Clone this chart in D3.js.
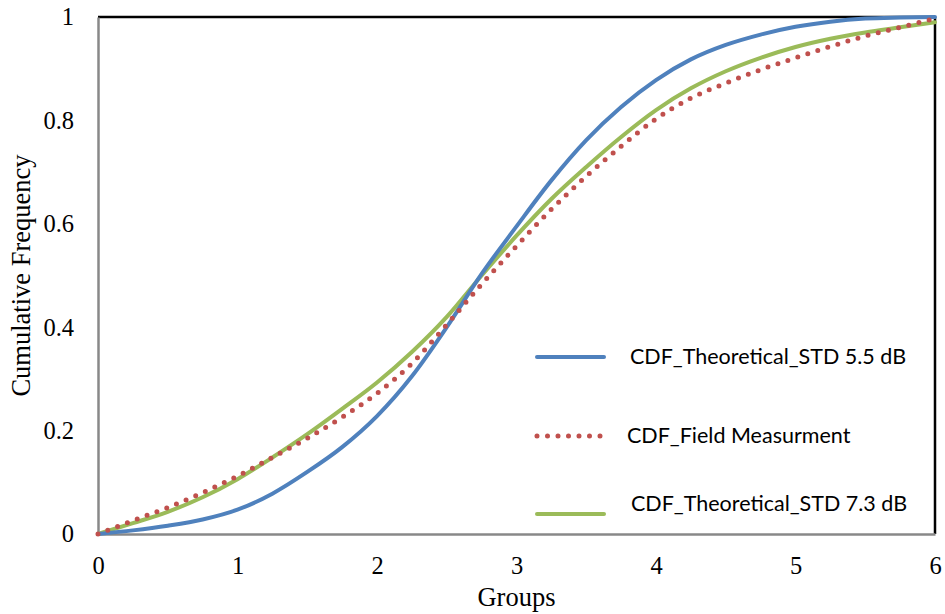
<!DOCTYPE html>
<html>
<head>
<meta charset="utf-8">
<script src="https://cdn.jsdelivr.net/npm/d3@7"></script>
<style>
  body { margin: 0; background: #fff; }
</style>
</head>
<body>
<div id="chart"></div>
<script>
// data
var groups = [0, 0.25, 0.5, 0.75, 1, 1.25, 1.5, 1.75, 2, 2.25, 2.5, 2.75, 3,
              3.25, 3.5, 3.75, 4, 4.25, 4.5, 4.75, 5, 5.25, 5.5, 5.75, 6];
var std55 = [0, 0.007, 0.016, 0.028, 0.047, 0.078, 0.12, 0.168, 0.228, 0.305, 0.40, 0.503, 0.595,
             0.684, 0.762, 0.826, 0.878, 0.918, 0.946, 0.966, 0.981, 0.991, 0.997, 0.999, 1.0];
var field = [0, 0.026, 0.051, 0.08, 0.112, 0.148, 0.185, 0.226, 0.272, 0.33, 0.405, 0.483, 0.557,
             0.628, 0.692, 0.75, 0.803, 0.843, 0.872, 0.898, 0.921, 0.943, 0.963, 0.98, 0.997];
var std73 = [0, 0.021, 0.043, 0.071, 0.106, 0.148, 0.193, 0.242, 0.293, 0.352, 0.42, 0.50, 0.577,
             0.648, 0.71, 0.768, 0.82, 0.862, 0.895, 0.921, 0.942, 0.958, 0.97, 0.98, 0.99];
var xTicks = [0, 1, 2, 3, 4, 5, 6];
var yTicks = [0, 0.2, 0.4, 0.6, 0.8, 1];
var seriesNames = ["CDF_Theoretical_STD 5.5 dB", "CDF_Field Measurment", "CDF_Theoretical_STD 7.3 dB"];

const width = 945;
const height = 614;
const plotLeft = 98, plotRight = 935, plotTop = 17, plotBottom = 534;

var svg = d3.select("#chart")
    .append("svg")
    .attr("width", width)
    .attr("height", height);

var x = d3.scaleLinear().domain([0, 6]).range([plotLeft, plotRight]);
var y = d3.scaleLinear().domain([0, 1]).range([plotBottom, plotTop]);

// frame: top and right black, left and bottom gray
svg.append("line").attr("x1", plotLeft).attr("x2", plotRight).attr("y1", plotTop).attr("y2", plotTop)
    .attr("stroke", "#000").attr("stroke-width", 2.5);
svg.append("line").attr("x1", plotRight).attr("x2", plotRight).attr("y1", plotTop).attr("y2", plotBottom)
    .attr("stroke", "#000").attr("stroke-width", 2.5);

// axes without tick marks
var xAxis = svg.append("g")
    .attr("transform", "translate(0," + plotBottom + ")")
    .call(d3.axisBottom(x).tickValues(xTicks).tickSize(0).tickPadding(23).tickFormat(d3.format("d")));
var yAxis = svg.append("g")
    .attr("transform", "translate(" + plotLeft + ",0)")
    .call(d3.axisLeft(y).tickValues(yTicks).tickSize(0).tickPadding(24).tickFormat(function(d){ return d === 0 || d === 1 ? d : d.toFixed(1); }));

[xAxis, yAxis].forEach(function(a) {
    a.select(".domain").attr("stroke", "#888").attr("stroke-width", 2.5);
    a.selectAll("text")
        .attr("font-family", "Liberation Serif, Times New Roman, serif")
        .attr("font-size", 24.5)
        .attr("fill", "#000");
});

// axis titles
svg.append("text")
    .attr("x", (plotLeft + plotRight) / 2)
    .attr("y", 606)
    .attr("text-anchor", "middle")
    .attr("font-family", "Liberation Serif, Times New Roman, serif")
    .attr("font-size", 26.5)
    .text("Groups");
svg.append("text")
    .attr("transform", "translate(30," + (plotTop + plotBottom) / 2 + ") rotate(-90)")
    .attr("text-anchor", "middle")
    .attr("font-family", "Liberation Serif, Times New Roman, serif")
    .attr("font-size", 26.5)
    .text("Cumulative Frequency");

var line = d3.line()
    .x(function(d){ return x(d[0]); })
    .y(function(d){ return y(d[1]); })
    .curve(d3.curveMonotoneX);

var series = [
    {name: seriesNames[0], values: std55, color: "#4F81BD", dash: null},
    {name: seriesNames[1], values: field, color: "#C0504D", dash: "0,10.5"},
    {name: seriesNames[2], values: std73, color: "#9BBB59", dash: null}
];

// draw green, then blue, red dots on top
[series[2], series[0], series[1]].forEach(function(s) {
    svg.append("path")
        .datum(groups.map(function(g, i){ return [g, s.values[i]]; }))
        .attr("d", line)
        .attr("fill", "none")
        .attr("stroke", s.color)
        .attr("stroke-width", s.dash ? 5 : 4)
        .attr("stroke-linecap", "round")
        .attr("stroke-dasharray", s.dash);
});

// legend
var legendY = [357, 436, 514];
var textY = [356, 435, 503];
var textX = [630, 627, 631];
series.forEach(function(s, i) {
    svg.append("line")
        .attr("x1", 537).attr("x2", 604)
        .attr("y1", legendY[i]).attr("y2", legendY[i])
        .attr("stroke", s.color)
        .attr("stroke-width", s.dash ? 5 : 4)
        .attr("stroke-linecap", "round")
        .attr("stroke-dasharray", s.dash);
    svg.append("text")
        .attr("x", textX[i])
        .attr("y", textY[i])
        .attr("dy", "0.35em")
        .attr("font-family", "Lato, Open Sans, sans-serif")
        .attr("font-size", 21.5)
        .attr("fill", "#000")
        .text(s.name);
});
</script>
</body>
</html>
